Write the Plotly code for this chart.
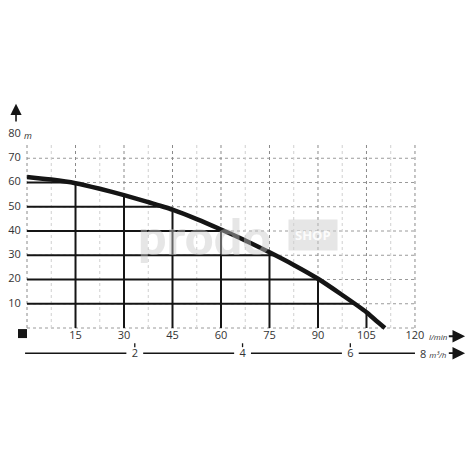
import numpy as np
import plotly.graph_objects as go

# ---------------- Data ----------------
flow_lmin = [0, 7.5, 15, 22.5, 30, 37.5, 45, 52.5, 60, 67.5, 75, 82.5, 90, 97.5, 105, 108, 110.7]
head_m = [62.3, 61.2, 59.7, 57.4, 54.8, 51.9, 48.8, 44.9, 40.6, 36.1, 31.2, 26.0, 20.3, 13.6, 6.5, 3.0, 0]

x_ticks = [15, 30, 45, 60, 75, 90, 105, 120]
y_ticks = [10, 20, 30, 40, 50, 60, 70]
m3h_ticks = [2, 4, 6]
x_minor = [7.5, 22.5, 37.5, 52.5, 67.5, 82.5, 97.5, 112.5]

X_MAX = 120
GRID_TOP = 76.7
FONT = "Open Sans"
INK = "#151515"


def head_at(q):
    return float(np.interp(q, flow_lmin, head_m))


def flow_at(h):
    return float(np.interp(h, head_m[::-1], flow_lmin[::-1]))


def segments(pairs):
    xs, ys = [], []
    for (x0, y0), (x1, y1) in pairs:
        xs += [x0, x1, None]
        ys += [y0, y1, None]
    return xs, ys


fig = go.Figure()

# ---------------- Dotted grid ----------------
gx, gy = segments([((0, h), (X_MAX, h)) for h in [0] + y_ticks])
fig.add_trace(go.Scatter(x=gx, y=gy, mode="lines",
                         line=dict(color="#9a9a9a", width=1, dash="dot")))
gx, gy = segments([((q, 0), (q, GRID_TOP)) for q in x_minor])
fig.add_trace(go.Scatter(x=gx, y=gy, mode="lines",
                         line=dict(color="#d0d0d0", width=1, dash="dot")))
gx, gy = segments([((q, 0), (q, GRID_TOP)) for q in [0] + x_ticks])
fig.add_trace(go.Scatter(x=gx, y=gy, mode="lines",
                         line=dict(color="#8a8a8a", width=1, dash="dot")))

# ---------------- Solid grid under the curve ----------------
pairs = [((0, h), (flow_at(h), h)) for h in y_ticks if h < head_m[0]]
pairs += [((q, 0), (q, head_at(q))) for q in x_ticks if q < flow_lmin[-1]]
sx, sy = segments(pairs)
fig.add_trace(go.Scatter(x=sx, y=sy, mode="lines",
                         line=dict(color=INK, width=2)))

# ---------------- Pump curve ----------------
fig.add_trace(go.Scatter(x=flow_lmin, y=head_m, mode="lines",
                         line=dict(color=INK, width=4.5, shape="spline", smoothing=0.6)))

# ---------------- Watermark ----------------
fig.add_annotation(x=55, y=38, text="prodo", showarrow=False,
                   font=dict(family="Lato", size=50, weight=900,
                             color="rgba(200,200,200,0.45)"))
fig.add_annotation(x=88.5, y=38.5, text="<b>SHOP</b>", showarrow=False,
                   bgcolor="rgba(205,205,205,0.5)", borderpad=6,
                   font=dict(family=FONT, size=13, color="rgba(255,255,255,0.9)"))

# ---------------- Y labels ----------------
fig.add_trace(go.Scatter(x=[-1.9] * (len(y_ticks) + 1), y=y_ticks + [80],
                         text=[str(v) for v in y_ticks] + ["80"],
                         mode="text", textposition="middle left",
                         textfont=dict(family=FONT, size=11, color="#333")))
fig.add_annotation(x=-1.6, y=79.3, text="<i>m</i>", showarrow=False, xanchor="left",
                   font=dict(family=FONT, size=9, color="#333"))
fig.add_annotation(x=-3.4, y=92.5, ax=-3.4, ay=84.5, axref="x", ayref="y",
                   text="", showarrow=True, arrowhead=2, arrowsize=1.4,
                   arrowwidth=1.6, arrowcolor=INK)

# ---------------- X labels (l/min) ----------------
fig.add_trace(go.Scatter(x=[-1.4], y=[-2.3], mode="markers",
                         marker=dict(symbol="square", size=9, color=INK)))
fig.add_trace(go.Scatter(x=x_ticks, y=[-3.4] * len(x_ticks),
                         text=[str(v) for v in x_ticks], mode="text",
                         textposition="middle center",
                         textfont=dict(family=FONT, size=11, color="#333")))
fig.add_annotation(x=123.6, y=-3.4, text="<i>l/min</i>", showarrow=False, xanchor="left",
                   font=dict(family=FONT, size=8, color="#333"))
fig.add_annotation(x=135.5, y=-3.4, ax=130.0, ay=-3.4, axref="x", ayref="y",
                   text="", showarrow=True, arrowhead=2, arrowsize=1.4,
                   arrowwidth=1.8, arrowcolor=INK)

# ---------------- Second scale (m3/h) ----------------
Y2 = -10.4
m3h_pos = [v * 1000 / 60 for v in m3h_ticks]
gap = 2.6
edges = [-0.6] + [p for v in m3h_pos for p in (v - gap, v + gap)] + [X_MAX]
sx, sy = segments([((edges[i], Y2), (edges[i + 1], Y2)) for i in range(0, len(edges), 2)])
fig.add_trace(go.Scatter(x=sx, y=sy, mode="lines", line=dict(color=INK, width=1.6)))
tx, ty = segments([((p, -6.3), (p, -7.9)) for p in m3h_pos])
fig.add_trace(go.Scatter(x=tx, y=ty, mode="lines", line=dict(color=INK, width=1.3)))
fig.add_trace(go.Scatter(x=m3h_pos, y=[Y2 - 0.3] * len(m3h_pos),
                         text=[str(v) for v in m3h_ticks], mode="text",
                         textposition="middle center",
                         textfont=dict(family=FONT, size=11, color="#333")))
fig.add_annotation(x=120.8, y=Y2 - 0.3, text="8 <i><span style='font-size:8px'>m³/h</span></i>",
                   showarrow=False, xanchor="left",
                   font=dict(family=FONT, size=11, color="#333"))
fig.add_annotation(x=135.5, y=Y2, ax=130.0, ay=Y2, axref="x", ayref="y",
                   text="", showarrow=True, arrowhead=2, arrowsize=1.4,
                   arrowwidth=1.8, arrowcolor=INK)

# page body adds an 8px offset, so ranges are shifted to compensate
fig.update_layout(
    width=475,
    height=475,
    margin=dict(l=0, r=0, t=0, b=0),
    paper_bgcolor="white",
    plot_bgcolor="white",
    showlegend=False,
    xaxis=dict(range=[-5.88, 141.04], visible=False, fixedrange=True),
    yaxis=dict(range=[-63.92, 131.96], visible=False, fixedrange=True),
)

fig.write_html("out.html")
